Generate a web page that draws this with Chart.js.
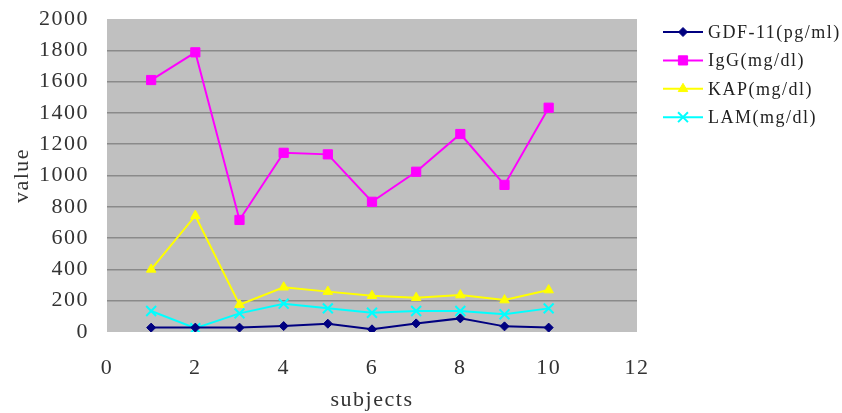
<!DOCTYPE html>
<html>
<head>
<meta charset="utf-8">
<script src="https://cdn.jsdelivr.net/npm/chart.js@4/dist/chart.umd.min.js"></script>
<style>
  html, body { margin: 0; padding: 0; background: #ffffff; }
  #wrap { width: 842px; height: 413px; }
</style>
</head>
<body>
<div id="wrap"><canvas id="c" width="842" height="413"></canvas></div>
<script>
// Subject numbers and the measured level of each marker per subject
const subjects = [1, 2, 3, 4, 5, 6, 7, 8, 9, 10];
const gdf11 = [28, 28, 28, 38, 53, 17, 55, 87, 36, 28];
const igg   = [1610, 1787, 716, 1145, 1135, 832, 1024, 1265, 940, 1433];
const kap   = [400, 743, 175, 286, 258, 232, 219, 236, 204, 268];
const lam   = [134, 24, 119, 181, 151, 123, 134, 134, 113, 151];

const seriesLabels = ['GDF-11(pg/ml)', 'IgG(mg/dl)', 'KAP(mg/dl)', 'LAM(mg/dl)'];
const xTicks = [0, 2, 4, 6, 8, 10, 12];
const yTicks = [0, 200, 400, 600, 800, 1000, 1200, 1400, 1600, 1800, 2000];

const serif = '"Liberation Serif", "DejaVu Serif", serif';
const textColor = '#333333';

function points(values) {
  return subjects.map((s, i) => ({ x: s, y: values[i] }));
}

function series(label, values, color, style, radius) {
  return {
    label: label,
    data: points(values),
    borderColor: color,
    backgroundColor: color,
    borderWidth: 2,
    pointStyle: style,
    pointRadius: radius,
    pointHoverRadius: radius,
    pointBorderColor: color,
    pointBackgroundColor: color,
    pointBorderWidth: style === 'crossRot' ? 2 : 1,
    tension: 0,
    fill: false
  };
}

// Grey plot background and spaced-out text like the original typesetting
const plotBackground = {
  id: 'plotBackground',
  beforeDraw(chart) {
    const { ctx, chartArea: a } = chart;
    ctx.letterSpacing = '1.5px';
    ctx.save();
    ctx.fillStyle = '#c0c0c0';
    ctx.fillRect(a.left, a.top, a.right - a.left, a.bottom - a.top);
    ctx.restore();
  }
};

// Legend with a short line and the series marker in its middle
const lineLegend = {
  id: 'lineLegend',
  afterDraw(chart) {
    const { ctx } = chart;
    const x0 = 663, x1 = 703, top = 32, step = 28.4;
    chart.data.datasets.forEach((ds, i) => {
      const y = top + i * step;
      ctx.save();
      ctx.strokeStyle = ds.borderColor;
      ctx.lineWidth = 2;
      ctx.beginPath();
      ctx.moveTo(x0, y);
      ctx.lineTo(x1, y);
      ctx.stroke();
      const opts = {
        pointStyle: ds.pointStyle,
        radius: ds.pointRadius,
        rotation: 0,
        borderWidth: ds.pointBorderWidth
      };
      ctx.fillStyle = ds.pointBackgroundColor;
      ctx.strokeStyle = ds.pointBorderColor;
      ctx.lineWidth = ds.pointBorderWidth;
      if (Chart.helpers && Chart.helpers.drawPoint) {
        Chart.helpers.drawPoint(ctx, opts, (x0 + x1) / 2, y);
      }
      ctx.letterSpacing = '1.5px';
      ctx.fillStyle = '#222222';
      ctx.font = '18px ' + serif;
      ctx.textBaseline = 'middle';
      ctx.textAlign = 'left';
      ctx.fillText(ds.label, 708, y + 1);
      ctx.restore();
    });
  }
};

new Chart(document.getElementById('c'), {
  type: 'line',
  data: {
    datasets: [
      series(seriesLabels[0], gdf11, '#000080', 'rectRot', 4.5),
      series(seriesLabels[1], igg, '#ff00ff', 'rect', 6.5),
      series(seriesLabels[2], kap, '#ffff00', 'triangle', 5.5),
      series(seriesLabels[3], lam, '#00ffff', 'crossRot', 7)
    ]
  },
  options: {
    responsive: false,
    animation: false,
    devicePixelRatio: 1,
    layout: { padding: { left: 0, right: 205, top: 19, bottom: 0 } },
    plugins: {
      legend: { display: false },
      tooltip: { enabled: false }
    },
    scales: {
      x: {
        type: 'linear',
        min: xTicks[0],
        max: xTicks[xTicks.length - 1],
        afterBuildTicks(scale) { scale.ticks = xTicks.map(v => ({ value: v })); },
        afterFit(scale) {
          scale.height = 81;
          scale.paddingLeft = 0;
          scale.paddingRight = 0;
        },
        border: { display: false },
        grid: { display: false, drawTicks: false },
        ticks: {
          padding: 23,
          color: textColor,
          font: { family: serif, size: 22 },
          callback: (v) => String(v)
        },
        title: {
          display: true,
          text: 'subjects',
          color: textColor,
          font: { family: serif, size: 22 },
          padding: { top: 0, bottom: 0 }
        }
      },
      y: {
        min: yTicks[0],
        max: yTicks[yTicks.length - 1],
        afterBuildTicks(scale) { scale.ticks = yTicks.map(v => ({ value: v })); },
        afterFit(scale) {
          scale.width = 107;
          scale.paddingTop = 0;
          scale.paddingBottom = 0;
        },
        border: { display: false },
        grid: {
          drawTicks: false,
          lineWidth: 1.5,
          color: (c) => (c.tick && (c.tick.value === 0 || c.tick.value === 2000)) ? 'rgba(0,0,0,0)' : '#8a8a8a'
        },
        ticks: {
          padding: 18,
          color: textColor,
          font: { family: serif, size: 22 },
          callback: (v) => String(v)
        },
        title: {
          display: true,
          text: 'value',
          color: textColor,
          font: { family: serif, size: 22 },
          padding: { top: 9, bottom: 0 }
        }
      }
    }
  },
  plugins: [plotBackground, lineLegend]
});
</script>
</body>
</html>
